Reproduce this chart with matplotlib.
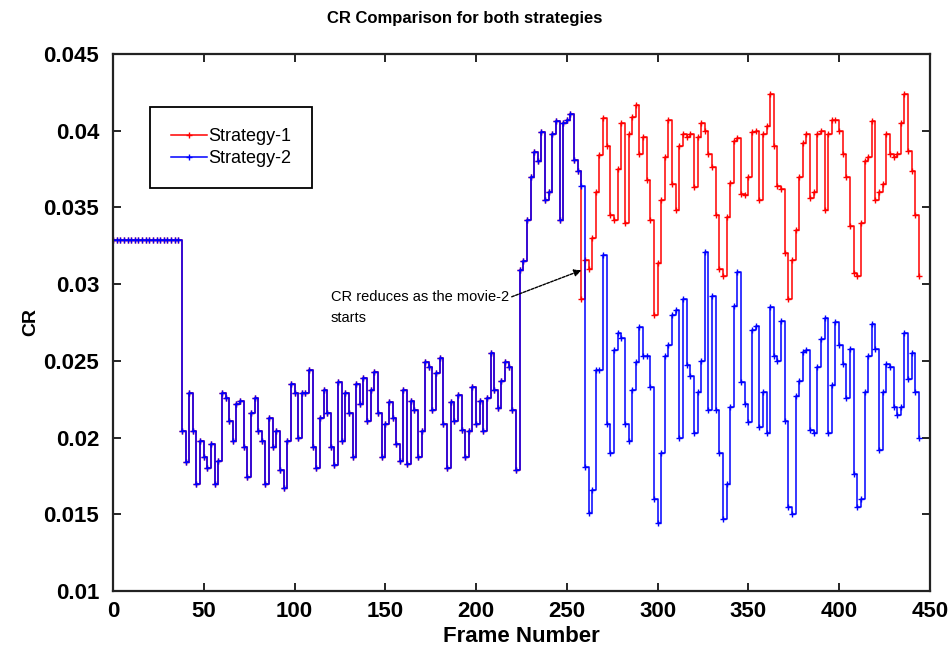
import matplotlib
matplotlib.use("Agg")
import matplotlib.pyplot as plt
import numpy as np

# Frame numbers (every second frame is plotted)
frames = np.arange(0, 446, 2)

# CR values common to both strategies (frames 0..256)
cr_common = [0.0329] * 19 + [
    0.0204, 0.0184, 0.0229, 0.0204, 0.0170, 0.0198, 0.0187, 0.0180, 0.0196, 0.0170,
    0.0185, 0.0229, 0.0226, 0.0211, 0.0198, 0.0222, 0.0224, 0.0194, 0.0174, 0.0216,
    0.0226, 0.0204, 0.0198, 0.0170, 0.0213, 0.0194, 0.0204, 0.0179, 0.0167, 0.0198,
    0.0235, 0.0229, 0.0200,
    0.0229, 0.0229, 0.0244, 0.0194, 0.0180, 0.0213, 0.0231, 0.0216, 0.0194, 0.0182,
    0.0236, 0.0198, 0.0229, 0.0216, 0.0187, 0.0235, 0.0222, 0.0239, 0.0211, 0.0231,
    0.0243, 0.0216, 0.0187, 0.0209, 0.0223, 0.0213, 0.0196, 0.0185, 0.0231, 0.0183,
    0.0224, 0.0218, 0.0187, 0.0204, 0.0249,
    0.0246, 0.0218, 0.0242, 0.0252, 0.0209, 0.0180, 0.0223, 0.0211, 0.0228, 0.0205,
    0.0187, 0.0204, 0.0233, 0.0209, 0.0224, 0.0204, 0.0226, 0.0255, 0.0231, 0.0219,
    0.0237, 0.0249, 0.0246, 0.0218, 0.0179, 0.0309, 0.0315, 0.0342, 0.0370, 0.0386,
    0.0380, 0.0399, 0.0355, 0.0360, 0.0398, 0.0406, 0.0342, 0.0405, 0.0407, 0.0411,
    0.0381, 0.0374,
]

# Strategy-1 after movie-2 starts (frames 258..444)
cr_s1_tail = [
    0.0290, 0.0316, 0.0310, 0.0330, 0.0360, 0.0384, 0.0408, 0.0390, 0.0345, 0.0342,
    0.0375, 0.0405, 0.0340, 0.0398, 0.0409, 0.0417, 0.0385, 0.0396, 0.0368, 0.0342,
    0.0280, 0.0314, 0.0355, 0.0383, 0.0407, 0.0365, 0.0348, 0.0390, 0.0398, 0.0396,
    0.0398, 0.0363, 0.0396, 0.0405, 0.0400, 0.0385, 0.0376, 0.0345, 0.0310, 0.0305,
    0.0344, 0.0366, 0.0393, 0.0395,
    0.0359, 0.0358, 0.0370, 0.0399, 0.0400, 0.0355, 0.0398, 0.0403, 0.0424, 0.0390,
    0.0364, 0.0362, 0.0320, 0.0290, 0.0316, 0.0335, 0.0370, 0.0392, 0.0398, 0.0356,
    0.0360, 0.0398, 0.0400, 0.0348, 0.0398, 0.0407, 0.0407, 0.0400, 0.0385, 0.0370,
    0.0338, 0.0307, 0.0305, 0.0340, 0.0380, 0.0383, 0.0406, 0.0355, 0.0360, 0.0365,
    0.0398, 0.0385, 0.0383, 0.0385, 0.0405, 0.0424, 0.0387, 0.0374, 0.0345, 0.0305,
]

# Strategy-2 after movie-2 starts (frames 258..444)
cr_s2_tail = [
    0.0364, 0.0181, 0.0151, 0.0166, 0.0244, 0.0244, 0.0319, 0.0209, 0.0190, 0.0257,
    0.0268, 0.0265, 0.0209, 0.0198, 0.0231, 0.0249, 0.0272, 0.0253, 0.0253, 0.0233,
    0.0160, 0.0144, 0.0190, 0.0253, 0.0260, 0.0280, 0.0283, 0.0200, 0.0290, 0.0247,
    0.0240, 0.0203, 0.0230, 0.0250, 0.0321, 0.0218, 0.0292, 0.0218, 0.0190, 0.0147,
    0.0170, 0.0220, 0.0286, 0.0308,
    0.0236, 0.0222, 0.0210, 0.0270, 0.0273, 0.0207, 0.0230, 0.0203, 0.0285, 0.0253,
    0.0250, 0.0276, 0.0211, 0.0155, 0.0150, 0.0227, 0.0237, 0.0256, 0.0257, 0.0205,
    0.0203, 0.0246, 0.0264, 0.0278, 0.0203, 0.0234, 0.0275, 0.0260, 0.0248, 0.0226,
    0.0258, 0.0176, 0.0155, 0.0160, 0.0230, 0.0253, 0.0274, 0.0258, 0.0192, 0.0230,
    0.0248, 0.0246, 0.0220, 0.0215, 0.0220, 0.0268, 0.0238, 0.0255, 0.0230, 0.0200,
]

cr_s1 = np.array(cr_common + cr_s1_tail)
cr_s2 = np.array(cr_common + cr_s2_tail)

x_ticks = [0, 50, 100, 150, 200, 250, 300, 350, 400, 450]
y_ticks = [0.01, 0.015, 0.02, 0.025, 0.03, 0.035, 0.04, 0.045]
y_ticklabels = ["0.01", "0.015", "0.02", "0.025", "0.03", "0.035", "0.04", "0.045"]

plt.rcParams["font.family"] = ["Liberation Sans", "DejaVu Sans"]

fig = plt.figure(figsize=(9.51, 6.57), dpi=100)
ax = fig.add_axes([0.1188, 0.1005, 0.859, 0.8174])

line_kw = dict(drawstyle="steps-post", lw=1.1, marker="+", ms=4.5, mew=1.0)
ax.plot(frames, cr_s1, color="#ff0000", label="Strategy-1", **line_kw)
ax.plot(frames, cr_s2, color="#0000ff", label="Strategy-2", **line_kw)

ax.set_xlim(0, 450)
ax.set_ylim(0.01, 0.045)
ax.set_xticks(x_ticks)
ax.set_yticks(y_ticks)
ax.set_yticklabels(y_ticklabels)
ax.tick_params(direction="in", length=6, width=1.2, top=True, right=True,
               labelsize=16)
ax.tick_params(axis="y", pad=10)
ax.tick_params(axis="x", pad=7)
for lab in ax.get_xticklabels() + ax.get_yticklabels():
    lab.set_fontweight("bold")
for sp in ax.spines.values():
    sp.set_linewidth(1.6)
    sp.set_color("#222222")

ax.set_xlabel("Frame Number", fontsize=16, fontweight="bold", labelpad=3)
ax.set_ylabel("CR", fontsize=14, fontweight="bold", labelpad=3)

fig.text(0.489, 0.972, "CR Comparison for both strategies", ha="center", va="center",
         fontsize=12, fontweight="bold")

ax.annotate("CR reduces as the movie-2\nstarts", xy=(258, 0.0309), xytext=(120, 0.0296),
            fontsize=10.5, ha="left", va="top", linespacing=1.6,
            arrowprops=dict(arrowstyle="-|>", color="black", lw=1.0,
                            linestyle=(0, (2, 1)), shrinkA=0, shrinkB=0,
                            relpos=(1.0, 0.78)))

leg = ax.legend(loc="upper left", bbox_to_anchor=(0.045, 0.901), borderaxespad=0,
                fancybox=False, edgecolor="black", framealpha=1, fontsize=13,
                numpoints=1, handlelength=2.0, handletextpad=0.1, borderpad=1.15,
                labelspacing=0.3)
leg.get_frame().set_linewidth(1.3)

fig.savefig("out.png", dpi=100)
